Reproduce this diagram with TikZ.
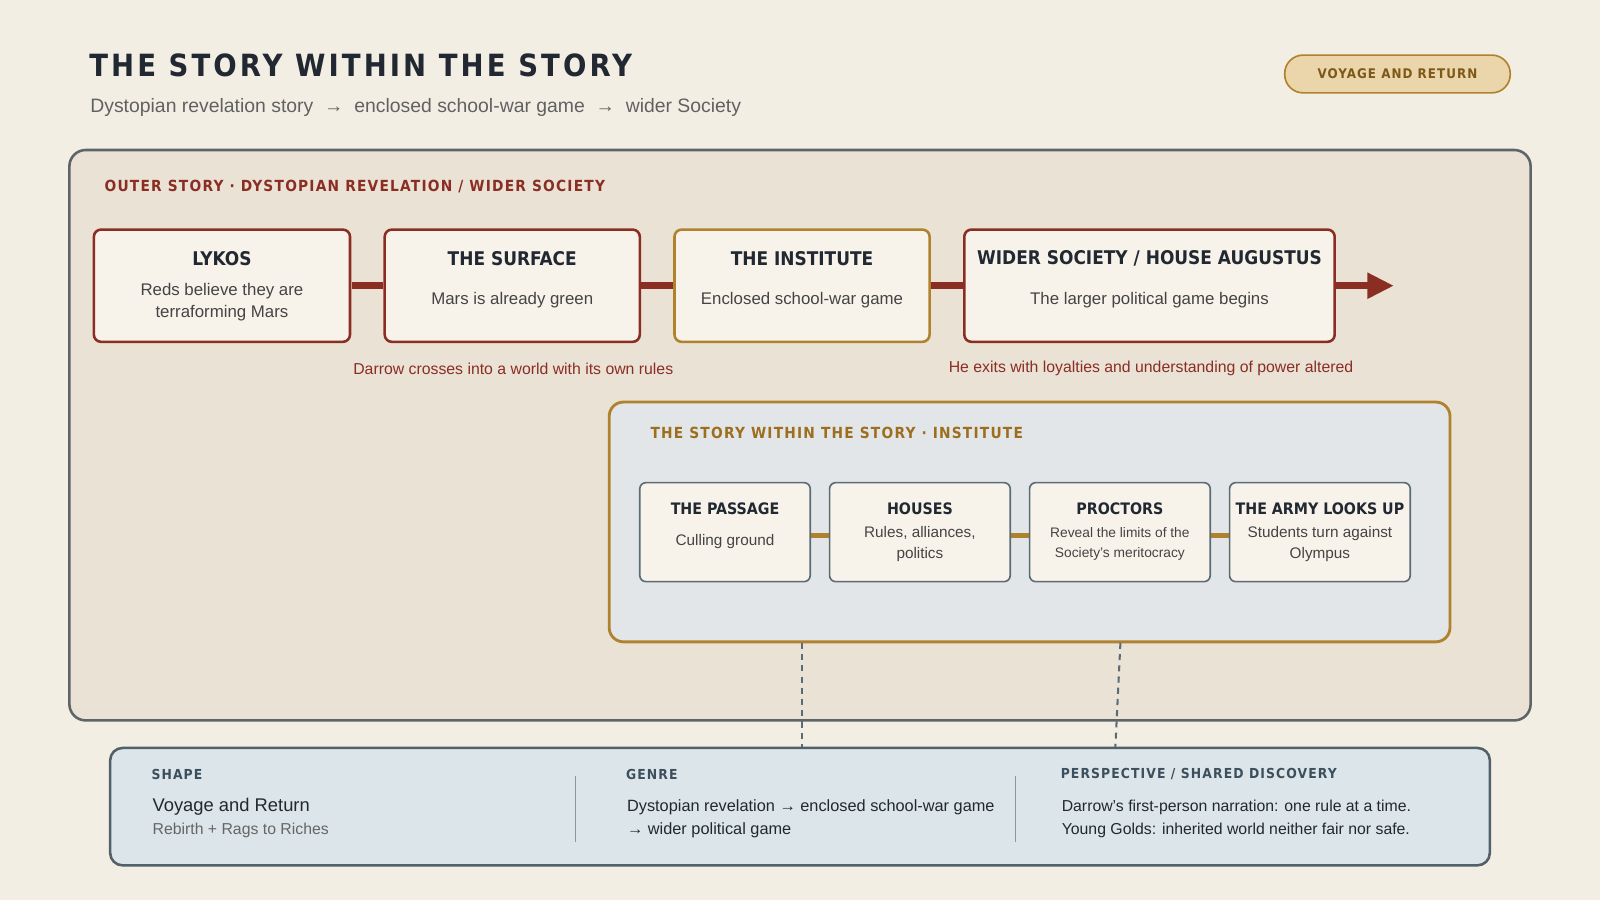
\documentclass[tikz,border=0pt]{standalone}
\usepackage{fontspec}
\setmainfont{Liberation Sans}
\newfontfamily\headf{DejaVu Sans Condensed}[BoldFont={DejaVu Sans Condensed Bold}]
\newfontfamily\headsp{DejaVu Sans Condensed}[BoldFont={DejaVu Sans Condensed Bold},LetterSpace=8]
\newfontfamily\headbig{DejaVu Sans Condensed}[BoldFont={DejaVu Sans Condensed Bold},LetterSpace=10]
\usetikzlibrary{arrows.meta}
\definecolor{bg}{HTML}{F3EEE4}
\definecolor{outerbg}{HTML}{EAE2D5}
\definecolor{frame}{HTML}{5F6468}
\definecolor{red}{HTML}{8A2E24}
\definecolor{gold}{HTML}{B0822E}
\definecolor{goldtxt}{HTML}{9C6E1E}
\definecolor{card}{HTML}{F8F3EA}
\definecolor{slate}{HTML}{5B6B75}
\definecolor{innerbg}{HTML}{E3E6E8}
\definecolor{botbg}{HTML}{DCE5EA}
\definecolor{ink}{HTML}{222831}
\definecolor{body}{HTML}{444444}
\definecolor{navy}{HTML}{3C4F5C}
\definecolor{badgebg}{HTML}{EAD6AA}
\begin{document}
\begin{tikzpicture}[x=1pt,y=-1pt,
 card/.style={draw=red,line width=2.5pt,fill=card,rounded corners=7pt},
 icard/.style={draw=slate,line width=1.6pt,fill=card,rounded corners=6pt},
 ttl/.style={font=\headf\bfseries\fontsize{18.5}{22}\selectfont,text=ink},
 ittl/.style={font=\headf\bfseries\fontsize{15.5}{19}\selectfont,text=ink},
 txt/.style={font=\fontsize{16.5}{22}\selectfont,text=body,align=center},
 itxt/.style={font=\fontsize{15}{20}\selectfont,text=body,align=center},
 lab/.style={font=\headsp\bfseries\fontsize{15}{17}\selectfont,anchor=west},
 blab/.style={font=\headsp\bfseries\fontsize{13.5}{16}\selectfont,anchor=west,text=navy},
 redl/.style={draw=red,line width=7pt},
 goldl/.style={draw=gold,line width=5pt},
 dashl/.style={draw=slate,line width=2pt,dash pattern=on 6pt off 5pt}]
\fill[bg] (0,0) rectangle (1568,882);
\useasboundingbox (0,0) rectangle (1568,882);
\node[anchor=base west,font=\headbig\bfseries\fontsize{30}{34}\selectfont,text=ink] (title) at (84,75) {THE STORY WITHIN THE STORY};
\node[anchor=base west,font=\fontsize{19}{22}\selectfont,text=black!62] (sub) at (85,110) {Dystopian revelation story \ → \ enclosed school-war game \ → \ wider Society};
\node[draw=gold,fill=badgebg,line width=1.6pt,rounded corners=18pt,minimum width=221pt,minimum height=37pt,font=\headsp\bfseries\fontsize{13}{15}\selectfont,text=goldtxt!80!black] (badge) at (1369.5,72.5) {VOYAGE AND RETURN};
% outer panel
\draw[frame,fill=outerbg,line width=2.5pt,rounded corners=16pt] (68,147) rectangle (1500,706);
\node[lab,text=red] (olab) at (99,183) {OUTER STORY · DYSTOPIAN REVELATION / WIDER SOCIETY};
% top cards
\draw[card] (92,225) rectangle (343,335); \node (c1) at (217.5,280) {};
\draw[card] (377,225) rectangle (627,335); \node (c2) at (502,280) {};
\draw[card,draw=gold] (661,225) rectangle (911,335); \node (c3) at (786,280) {};
\draw[card] (945,225) rectangle (1308,335); \node (c4) at (1126.5,280) {};
\coordinate (arrend) at (1366,280);
\draw[redl] (344.5,280) -- (375.5,280);
\draw[redl] (628.5,280) -- (659.5,280);
\draw[redl] (912.5,280) -- (943.5,280);
\draw[redl,-{Triangle[length=26pt,width=24pt]}] (1309.5,280) -- (arrend);
\node[ttl] at (217.5,253) {LYKOS};
\node[txt] at (217.5,296) {Reds believe they are\\terraforming Mars};
\node[ttl] at (502,253) {THE SURFACE};
\node[txt] at (502,294) {Mars is already green};
\node[ttl] at (786,253) {THE INSTITUTE};
\node[txt] at (786,294) {Enclosed school-war game};
\node[ttl] at (1126.5,253) {WIDER SOCIETY / HOUSE AUGUSTUS};
\node[txt] at (1126.5,294) {The larger political game begins};
\node[font=\fontsize{15.5}{18}\selectfont,text=red] at (503,361) {Darrow crosses into a world with its own rules};
\node[font=\fontsize{15.5}{18}\selectfont,text=red] at (1128,361) {He exits with loyalties and understanding of power altered};
% inner panel
\draw[gold,fill=innerbg,line width=2.8pt,rounded corners=14pt] (597,394) rectangle (1421,629);
\node[lab,text=goldtxt] (ilab) at (634,424) {THE STORY WITHIN THE STORY · INSTITUTE};
\draw[goldl] (795,525) -- (812,525);
\draw[goldl] (991,525) -- (1008,525);
\draw[goldl] (1187,525) -- (1204,525);
\draw[icard] (627,473) rectangle (794,570);
\draw[icard] (813,473) rectangle (990,570);
\draw[icard] (1009,473) rectangle (1186,570);
\draw[icard] (1205,473) rectangle (1382,570);
\node[ittl] at (710.5,499) {THE PASSAGE};
\node[itxt] at (710.5,531) {Culling ground};
\node[ittl] at (901.5,499) {HOUSES};
\node[itxt] at (901.5,533) {Rules, alliances,\\politics};
\node[ittl] at (1097.5,499) {PROCTORS};
\node[itxt,font=\fontsize{13.5}{19}\selectfont] at (1097.5,533) {Reveal the limits of the\\Society's meritocracy};
\node[ittl] at (1293.5,499) {THE ARMY LOOKS UP};
\node[itxt] at (1293.5,533) {Students turn against\\Olympus};
% bottom panel
\coordinate (d1a) at (786,630); \coordinate (d1b) at (786,733);
\coordinate (d2a) at (1098,630); \coordinate (d2b) at (1093,733);
\draw[dashl] (d1a) -- (d1b);
\draw[dashl] (d2a) -- (d2b);
\draw[draw=slate!90!black,fill=botbg,line width=2.5pt,rounded corners=12pt] (108,733) rectangle (1460,848);
\draw[slate!70,line width=1.2pt] (564,760) -- (564,825);
\draw[slate!70,line width=1.2pt] (995,760) -- (995,825);
\node[blab] at (145,759) {SHAPE};
\node[blab] at (610,759) {GENRE};
\node[blab] at (1036,759) {PERSPECTIVE / SHARED DISCOVERY};
\node[anchor=base west,font=\fontsize{18}{22}\selectfont,text=ink] at (146,795) {Voyage and Return};
\node[anchor=base west,font=\fontsize{15.5}{20}\selectfont,text=black!60] at (146,818) {Rebirth + Rags to Riches};
\node[anchor=base west,font=\fontsize{16}{20}\selectfont,text=ink] at (611,795) {Dystopian revelation → enclosed school-war game};
\node[anchor=base west,font=\fontsize{16}{20}\selectfont,text=ink] at (611,818) {→ wider political game};
\node[anchor=base west,font=\fontsize{15.5}{20}\selectfont,text=ink] at (1037,795) {Darrow’s first-person narration: one rule at a time.};
\node[anchor=base west,font=\fontsize{15.5}{20}\selectfont,text=ink] at (1037,818) {Young Golds: inherited world neither fair nor safe.};
\end{tikzpicture}
\end{document}
